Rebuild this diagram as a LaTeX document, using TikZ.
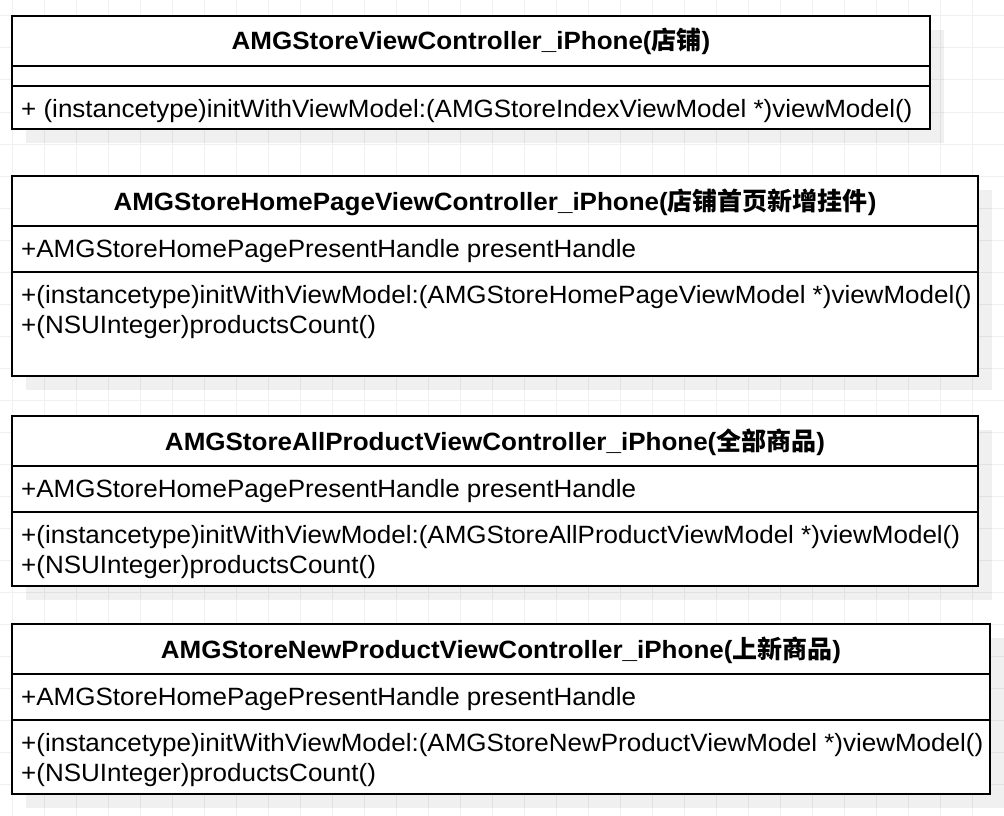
\documentclass[tikz,border=0pt]{standalone}
\usepackage{fontspec}
\setmainfont{Liberation Sans}[FakeStretch=1.04]
\newfontfamily\cjk{Noto Sans CJK SC}
\begin{document}
\begin{tikzpicture}[x=1pt,y=-1pt,
  umlbox/.style={draw=black, line width=2pt, fill=white},
  divider/.style={draw=black, line width=2pt},
  shadowbox/.style={fill=black, fill opacity=0.06, draw=none},
  titletext/.style={font=\fontsize{25}{30}\selectfont\bfseries, inner sep=0pt, anchor=base},
  member/.style={font=\fontsize{25}{30}\selectfont, inner sep=0pt, anchor=base west},
  gridline/.style={draw=black!6, line width=1pt}]
\useasboundingbox (0,0) rectangle (1004,816);
\fill[white] (0,0) rectangle (1004,816);
\foreach \x in {12,44,...,1004} \draw[gridline] (\x,0) -- (\x,816);
\foreach \y in {16,48,...,816} \draw[gridline] (0,\y) -- (1004,\y);

% Box 1
\fill[shadowbox] (26,30) rectangle (944,143);
\draw[umlbox] (12,16) rectangle (930,129);
\draw[divider] (12,66) -- (930,66);
\draw[divider] (12,86) -- (930,86);
\node[titletext] (t1) at (471,50) {AMGStoreViewController\_iPhone({\cjk 店铺})};
\node[member] (m1a) at (21,117) {+ (instancetype)initWithViewModel:(AMGStoreIndexViewModel *)viewModel()};

% Box 2
\fill[shadowbox] (26,190) rectangle (992,390);
\draw[umlbox] (12,176) rectangle (978,376);
\draw[divider] (12,226) -- (978,226);
\draw[divider] (12,272) -- (978,272);
\node[titletext] (t2) at (495,210) {AMGStoreHomePageViewController\_iPhone({\cjk 店铺首页新增挂件})};
\node[member] (a2) at (21,257) {+AMGStoreHomePagePresentHandle presentHandle};
\node[member] (m2a) at (21,303) {+(instancetype)initWithViewModel:(AMGStoreHomePageViewModel *)viewModel()};
\node[member] (m2b) at (21,333) {+(NSUInteger)productsCount()};

% Box 3
\fill[shadowbox] (26,430) rectangle (992,600);
\draw[umlbox] (12,416) rectangle (978,586);
\draw[divider] (12,466) -- (978,466);
\draw[divider] (12,512) -- (978,512);
\node[titletext] (t3) at (495,450) {AMGStoreAllProductViewController\_iPhone({\cjk 全部商品})};
\node[member] (a3) at (21,497) {+AMGStoreHomePagePresentHandle presentHandle};
\node[member] (m3a) at (21,543) {+(instancetype)initWithViewModel:(AMGStoreAllProductViewModel *)viewModel()};
\node[member] (m3b) at (21,573) {+(NSUInteger)productsCount()};

% Box 4
\fill[shadowbox] (26,638) rectangle (1004,808);
\draw[umlbox] (12,624) rectangle (990,794);
\draw[divider] (12,674) -- (990,674);
\draw[divider] (12,720) -- (990,720);
\node[titletext] (t4) at (501,658) {AMGStoreNewProductViewController\_iPhone({\cjk 上新商品})};
\node[member] (a4) at (21,705) {+AMGStoreHomePagePresentHandle presentHandle};
\node[member] (m4a) at (21,751) {+(instancetype)initWithViewModel:(AMGStoreNewProductViewModel *)viewModel()};
\node[member] (m4b) at (21,781) {+(NSUInteger)productsCount()};
\end{tikzpicture}
\end{document}
